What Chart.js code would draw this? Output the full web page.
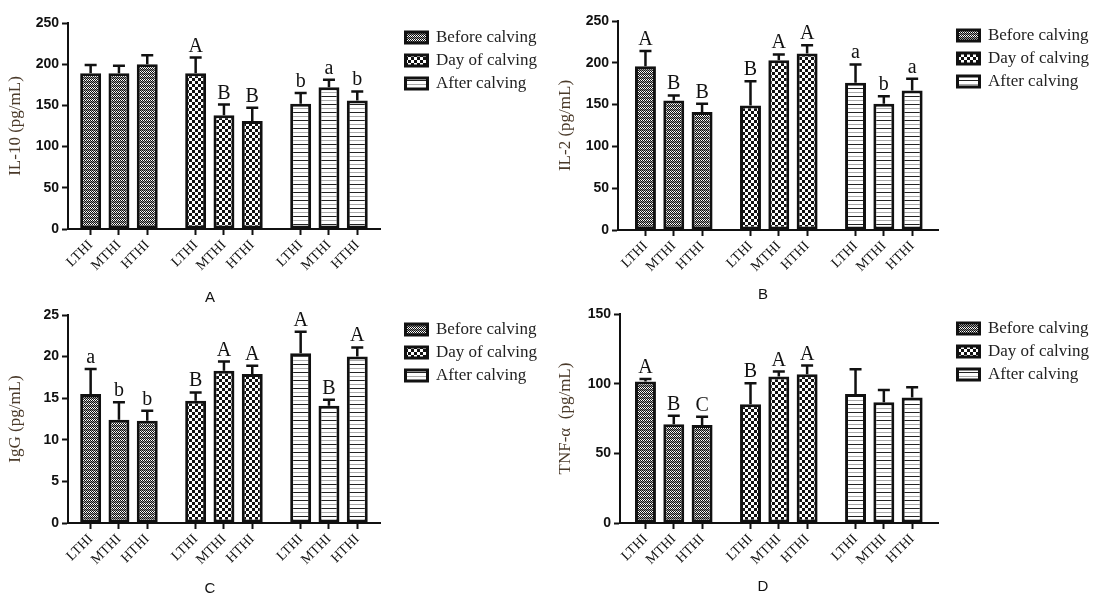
<!DOCTYPE html>
<html>
<head>
<meta charset="utf-8">
<script src="https://cdn.jsdelivr.net/npm/chart.js@4.4.0/dist/chart.umd.min.js"></script>
<style>
  body { margin: 0; background: #fff; }
  #wrap { position: relative; width: 1099px; height: 596px; }
  .panel { position: absolute; }
  .tag {
    position: absolute;
    font: 15px "Liberation Sans", Arial, sans-serif;
    color: #111;
    transform: translate(-50%, -50%);
  }
</style>
</head>
<body>
<div id="wrap">
  <div class="panel" style="left:0;top:0;width:550px;height:300px"><canvas id="chartA"></canvas></div>
  <div class="panel" style="left:550px;top:0;width:549px;height:300px"><canvas id="chartB"></canvas></div>
  <div class="panel" style="left:0;top:292px;width:550px;height:304px"><canvas id="chartC"></canvas></div>
  <div class="panel" style="left:550px;top:292px;width:549px;height:304px"><canvas id="chartD"></canvas></div>
  <div class="tag" style="left:210px;top:296px">A</div>
  <div class="tag" style="left:763px;top:293px">B</div>
  <div class="tag" style="left:210px;top:587px">C</div>
  <div class="tag" style="left:763px;top:585px">D</div>
</div>
<script>
// Categorías
const periods = ['Before calving', 'Day of calving', 'After calving'];
const levels = ['LTHI', 'MTHI', 'HTHI'];

// A - IL-10
const il10Means = [[189, 189, 200], [189, 138, 131], [152, 172, 156]];
const il10Errors = [[10, 9, 11], [19, 13, 16], [13, 9, 11]];
const il10Letters = [['', '', ''], ['A', 'B', 'B'], ['b', 'a', 'b']];
const il10Ticks = [0, 50, 100, 150, 200, 250];

// B - IL-2
const il2Means = [[196, 155, 141], [149, 203, 211], [176, 151, 167]];
const il2Errors = [[18, 6, 10], [29, 7, 10], [22, 9, 14]];
const il2Letters = [['A', 'B', 'B'], ['B', 'A', 'A'], ['a', 'b', 'a']];
const il2Ticks = [0, 50, 100, 150, 200, 250];

// C - IgG
const iggMeans = [[15.5, 12.4, 12.3], [14.7, 18.3, 17.9], [20.4, 14.1, 20.0]];
const iggErrors = [[3.0, 2.1, 1.2], [1.0, 1.1, 1.0], [2.6, 0.7, 1.1]];
const iggLetters = [['a', 'b', 'b'], ['B', 'A', 'A'], ['A', 'B', 'A']];
const iggTicks = [0, 5, 10, 15, 20, 25];

// D - TNF-α
const tnfMeans = [[101.5, 70.8, 70.3], [85.2, 105.1, 106.8], [92.6, 86.6, 90.0]];
const tnfErrors = [[1.9, 6.2, 6.0], [15.1, 3.6, 6.2], [17.8, 8.9, 7.4]];
const tnfLetters = [['A', 'B', 'C'], ['B', 'A', 'A'], ['', '', '']];
const tnfTicks = [0, 50, 100, 150];

// separación entre grupos (en unidades de barra)
const GROUP_STEP = 3.71;

// Tramas de relleno
function makePattern(w, h, paint) {
    const c = document.createElement('canvas');
    c.width = w;
    c.height = h;
    const ctx = c.getContext('2d');
    ctx.fillStyle = '#fff';
    ctx.fillRect(0, 0, w, h);
    paint(ctx);
    return ctx.createPattern(c, 'repeat');
}

const fills = [
    makePattern(4, 4, ctx => {
        ctx.fillStyle = '#111';
        [[0, 0], [2, 0], [1, 1], [3, 1], [0, 2], [2, 2], [1, 3], [3, 3]].forEach(p => ctx.fillRect(p[0], p[1], 1, 1));
        ctx.fillStyle = '#999';
        [[0, 1], [2, 1], [1, 2], [3, 2]].forEach(p => ctx.fillRect(p[0], p[1], 1, 1));
    }),
    makePattern(6, 6, ctx => {
        ctx.fillStyle = '#111';
        ctx.fillRect(0, 0, 3, 3);
        ctx.fillRect(3, 3, 3, 3);
    }),
    makePattern(1, 8, ctx => {
        ctx.fillStyle = '#222';
        ctx.fillRect(0, 0, 1, 1);
        ctx.fillStyle = '#aaa';
        ctx.fillRect(0, 4, 1, 1);
    })
];

// Barras de error y letras
const errorBars = {
    id: 'errorBars',
    afterDatasetsDraw(chart) {
        const ctx = chart.ctx;
        const yScale = chart.scales.y;
        ctx.save();
        ctx.strokeStyle = '#111';
        ctx.fillStyle = '#111';
        ctx.lineWidth = 2.5;
        ctx.font = '20px "Liberation Serif", serif';
        ctx.textAlign = 'center';
        chart.data.datasets.forEach((ds, di) => {
            chart.getDatasetMeta(di).data.forEach((bar, i) => {
                const top = yScale.getPixelForValue(ds.data[i].y + ds.errors[i]);
                ctx.beginPath();
                ctx.moveTo(bar.x, bar.y);
                ctx.lineTo(bar.x, top);
                ctx.moveTo(bar.x - 6, top);
                ctx.lineTo(bar.x + 6, top);
                ctx.stroke();
                if (ds.letters[i]) ctx.fillText(ds.letters[i], bar.x, top - 6);
            });
        });
        ctx.restore();
    }
};

// Desplazar la leyenda a la derecha del área del gráfico
const legendShift = {
    id: 'legendShift',
    afterLayout(chart, args, opts) {
        chart.legend.left += opts.dx;
        chart.legend.right += opts.dx;
    }
};

function buildChart(id, cfg) {
    const datasets = periods.map((name, g) => ({
        label: name,
        data: levels.map((lv, i) => ({ x: g * GROUP_STEP + i, y: cfg.means[g][i] })),
        errors: cfg.errors[g],
        letters: cfg.letters[g],
        backgroundColor: fills[g],
        borderColor: '#111',
        borderWidth: 3,
        borderSkipped: false,
        grouped: false,
        categoryPercentage: 1,
        barPercentage: 0.74
    }));
    const positions = datasets.flatMap(d => d.data.map(p => p.x));
    const labels = periods.flatMap(() => levels);

    return new Chart(document.getElementById(id), {
        type: 'bar',
        data: { datasets },
        plugins: [errorBars, legendShift],
        options: {
            responsive: true,
            maintainAspectRatio: false,
            animation: false,
            layout: { padding: cfg.padding },
            plugins: {
                legend: {
                    position: 'right',
                    align: 'start',
                    maxWidth: 200,
                    labels: {
                        boxWidth: 22,
                        boxHeight: 11,
                        padding: 6,
                        color: '#222',
                        font: { family: 'Liberation Serif', size: 17 }
                    }
                },
                tooltip: { enabled: false },
                legendShift: { dx: cfg.legendDx }
            },
            scales: {
                x: {
                    type: 'linear',
                    min: cfg.xMin,
                    max: cfg.xMax,
                    offset: false,
                    afterBuildTicks: s => { s.ticks = positions.map(v => ({ value: v })); },
                    afterFit: s => { s.height = 45; },
                    grid: {
                        offset: false,
                        drawOnChartArea: false,
                        tickLength: 6,
                        tickWidth: 2,
                        tickColor: '#111'
                    },
                    border: { color: '#111', width: 2 },
                    ticks: {
                        autoSkip: false,
                        maxRotation: 45,
                        minRotation: 45,
                        padding: 2,
                        color: '#111',
                        font: { family: 'Liberation Serif', size: 14 },
                        callback: (v, i) => labels[i]
                    }
                },
                y: {
                    min: cfg.ticks[0],
                    max: cfg.ticks[cfg.ticks.length - 1],
                    afterBuildTicks: s => { s.ticks = cfg.ticks.map(v => ({ value: v })); },
                    afterFit: s => { s.width = cfg.left; },
                    grid: {
                        drawOnChartArea: false,
                        tickLength: 6,
                        tickWidth: 2,
                        tickColor: '#111'
                    },
                    border: { color: '#111', width: 2 },
                    ticks: {
                        color: '#111',
                        padding: 3,
                        font: { family: 'Liberation Sans', size: 14, weight: 'bold' }
                    },
                    title: {
                        display: true,
                        text: cfg.title,
                        color: '#4a3a2a',
                        font: { family: 'Liberation Serif', size: 17 },
                        padding: { top: 5, bottom: 0 }
                    }
                }
            }
        }
    });
}

buildChart('chartA', {
    means: il10Means, errors: il10Errors, letters: il10Letters, ticks: il10Ticks,
    title: 'IL-10 (pg/mL)', left: 68, xMin: -0.8, xMax: 10.24, legendDx: 19,
    padding: { top: 23, right: 22, bottom: 26, left: 0 }
});

buildChart('chartB', {
    means: il2Means, errors: il2Errors, letters: il2Letters, ticks: il2Ticks,
    title: 'IL-2 (pg/mL)', left: 68, xMin: -0.97, xMax: 10.35, legendDx: 13,
    padding: { top: 21, right: 13, bottom: 25, left: 0 }
});

buildChart('chartC', {
    means: iggMeans, errors: iggErrors, letters: iggLetters, ticks: iggTicks,
    title: 'IgG (pg/mL)', left: 68, xMin: -0.8, xMax: 10.24, legendDx: 19,
    padding: { top: 23, right: 22, bottom: 28, left: 0 }
});

buildChart('chartD', {
    means: tnfMeans, errors: tnfErrors, letters: tnfLetters, ticks: tnfTicks,
    title: 'TNF-α  (pg/mL)', left: 70, xMin: -0.9, xMax: 10.35, legendDx: 13,
    padding: { top: 22, right: 13, bottom: 28, left: 0 }
});
</script>
</body>
</html>
